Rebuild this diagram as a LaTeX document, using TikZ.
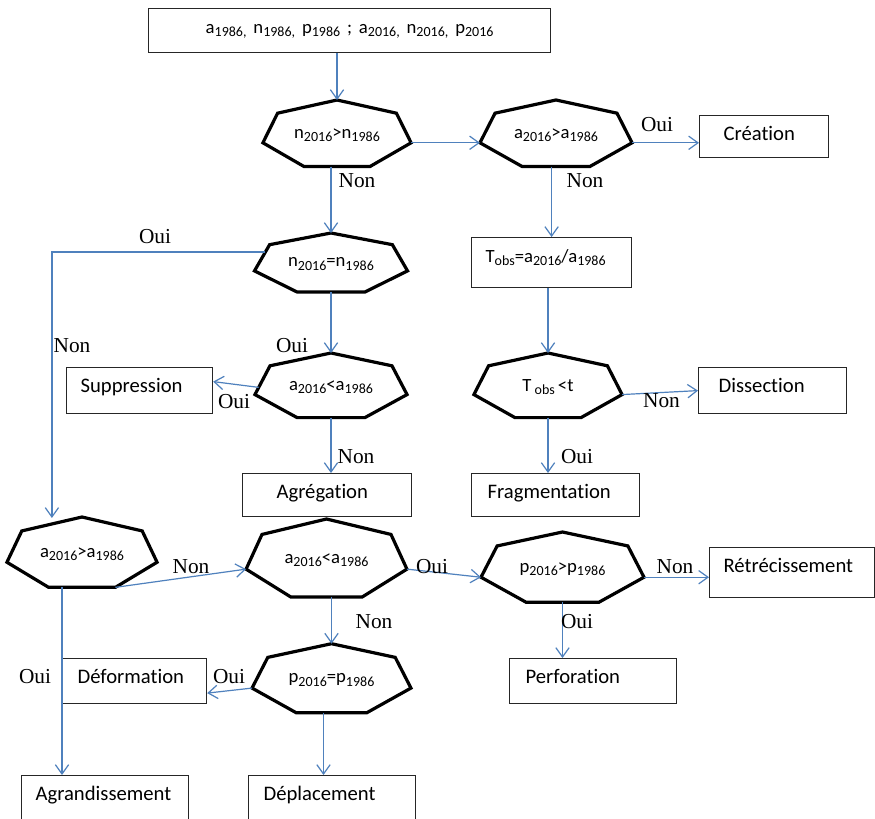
\documentclass[tikz,border=0pt]{standalone}
\usepackage{fontspec}
\setmainfont{Carlito}[Ligatures=NoCommon]
\newfontfamily\tnr{Liberation Serif}
\usetikzlibrary{arrows.meta,calc}
\definecolor{conncol}{HTML}{4F81BD}
\newcommand\sbs[1]{\raisebox{-0.35ex}{\fontsize{10.5}{11}\selectfont #1}}
\tikzset{
 conn/.style={draw=conncol, line width=0.9pt, -{Straight Barb[length=7pt,width=10pt]}},
 hlabel/.style={font=\fontsize{14}{16}\selectfont, inner sep=0pt},
 hept/.style={draw=black, line width=2.4pt},
 box/.style={draw=black!85, line width=0.9pt, font=\fontsize{15.5}{18}\selectfont},
 yn/.style={font=\tnr\fontsize{16}{18}\selectfont, inner sep=0pt},
}
\newcommand\bx[8][left]{%
  \pgfmathsetmacro\bxw{(#5-#3-2*#7)*0.75}%
  \pgfmathsetmacro\bxd{(#6-#4-25)*0.75}%
  \pgfmathsetmacro\bxp{#7*0.75}%
  \node[box, anchor=north west, inner xsep=\bxp pt, inner ysep=0pt, text width=\bxw pt,
        text height=18.75pt, text depth=\bxd pt, align=#1] (#2) at (#3,-#4) {#8};}
\begin{document}
\begin{tikzpicture}[x=0.75pt,y=0.75pt]
\clip (0,0) rectangle (875,-818);
\fill[white] (0,0) rectangle (875,-818);

% boxes
\bx[center]{top}{148}{8}{550}{52}{0}{\fontsize{14}{16}\selectfont a\sbs{1986,} n\sbs{1986,} p\sbs{1986} ; a\sbs{2016,} n\sbs{2016,} p\sbs{2016}}
\bx{creation}{699}{115}{828}{157}{24}{Création}
\bx{tobs}{471}{237}{631}{287}{14}{\fontsize{14}{16}\selectfont T\sbs{obs}=a\sbs{2016}/a\sbs{1986}}
\bx{dissection}{698}{367}{846}{413}{20}{Dissection}
\bx{suppression}{66}{367}{212}{413}{14}{Suppression}
\bx{agregation}{242}{473}{411}{516}{34}{Agrégation}
\bx{fragmentation}{471}{473}{639}{516}{16}{Fragmentation}
\bx{retrecissement}{709}{547}{874}{597}{14}{Rétrécissement}
\bx{perforation}{509}{658}{676}{703}{16}{Perforation}
\bx{deformation}{62}{658}{206}{703}{15}{Déformation}
\bx{agrandissement}{21}{775}{188}{825}{14}{Agrandissement}
\bx{deplacement}{248}{775}{415}{825}{15}{Déplacement}

% heptagon texts
\node[hlabel] (h1) at (337,-135) {n\sbs{2016}>n\sbs{1986}};
\node[hlabel] (h2) at (556,-135) {a\sbs{2016}>a\sbs{1986}};
\node[hlabel] (h3) at (331,-264) {n\sbs{2016}=n\sbs{1986}};
\node[hlabel] (h4) at (331,-387) {a\sbs{2016}<a\sbs{1986}};
\node[hlabel] (h5) at (548,-387) {T\,\sbs{obs}\,<t};
\node[hlabel] (h6) at (82,-554) {a\sbs{2016}>a\sbs{1986}};
\node[hlabel] (h7) at (326.5,-560) {a\sbs{2016}<a\sbs{1986}};
\node[hlabel] (h8) at (562.5,-569) {p\sbs{2016}>p\sbs{1986}};
\node[hlabel] (h9) at (331.5,-680) {p\sbs{2016}=p\sbs{1986}};

% heptagon outlines
\foreach \n/\a/\b in {h1/76/35, h2/78/35, h3/78.5/31, h4/78/34, h5/76/34, h6/77/37, h7/82.5/41, h8/83.6/37, h9/81.5/36.3}{
  \foreach \v/\ang in {t/90, ul/141.43, l/192.86, bl/244.29, br/295.71, r/347.14, ur/38.57}
    \coordinate (\n-\v) at ($(\n.center)+({\a*cos(\ang)},{\b*sin(\ang)})$);
  \coordinate (\n-b) at ($(\n-bl)!0.5!(\n-br)$);
  \draw[hept] (\n-t) -- (\n-ur) -- (\n-r) -- (\n-br) -- (\n-bl) -- (\n-l) -- (\n-ul) -- cycle;
}

% connectors
\draw[conn] (h1-t |- top.south) -- (h1-t);
\draw[conn] (h1-r) -- (h2-l);
\draw[conn] (h2-r) -- (creation.west |- h2-r);
\draw[conn] (h3-t |- h1-b) -- (h3-t);
\draw[conn] (tobs.north |- h2-b) -- (tobs.north);
\draw[conn] (h5-t |- tobs.south) -- (h5-t);
\draw[conn] (h5-r) -- (dissection.west);
\draw[conn] (h5-b) -- (h5-b |- fragmentation.north);
\draw[conn] (h4-t |- h3-b) -- (h4-t);
\coordinate (h3out) at ($(h3-l)!0.72!(h3-ul)$);
\coordinate (h6in) at ($(h6-ul)!0.5!(h6-t)+(0,6)$);
\draw[conn] (h3out) -| (h6in);
\draw[conn] ($(h4-l)!0.25!(h4-ul)$) -- ($(suppression.east)+(0,9)$);
\draw[conn] (h4-b) -- (h4-b |- agregation.north);
\draw[conn] (h6-br) -- (h7-l);
\draw[conn] (deformation.west |- h6-b) -- (deformation.west |- agrandissement.north);
\draw[conn] (h7-r) -- (h8-l);
\draw[conn] (h9-t |- h7-b) -- (h9-t);
\draw[conn] (h8-r) -- (retrecissement.west |- h8-r);
\draw[conn] (h8-b) -- (h8-b |- perforation.north);
\draw[conn] (h9-l) -- ($(deformation.east)+(0,-12)$);
\coordinate (h9o) at ($(h9-b)+(-8,0)$);
\draw[conn] (h9o) -- (h9o |- deplacement.north);

% labels
\node[yn] (l1) at (657,-125) {Oui};
\node[yn] (l2) at (357,-181) {Non};
\node[yn] (l3) at (585,-181) {Non};
\node[yn] (l4) at (155,-237) {Oui};
\node[yn] (l5) at (72,-346) {Non};
\node[yn] (l6) at (292,-346) {Oui};
\node[yn] (l7) at (234,-402) {Oui};
\node[yn] (l8) at (661.5,-401) {Non};
\node[yn] (l9) at (356,-457) {Non};
\node[yn] (l10) at (577,-457) {Oui};
\node[yn] (l11) at (191,-567) {Non};
\node[yn] (l12) at (432,-567) {Oui};
\node[yn] (l13) at (675,-567) {Non};
\node[yn] (l14) at (374,-622) {Non};
\node[yn] (l15) at (577,-622) {Oui};
\node[yn] (l16) at (35,-677) {Oui};
\node[yn] (l17) at (229,-677) {Oui};
\end{tikzpicture}
\end{document}
